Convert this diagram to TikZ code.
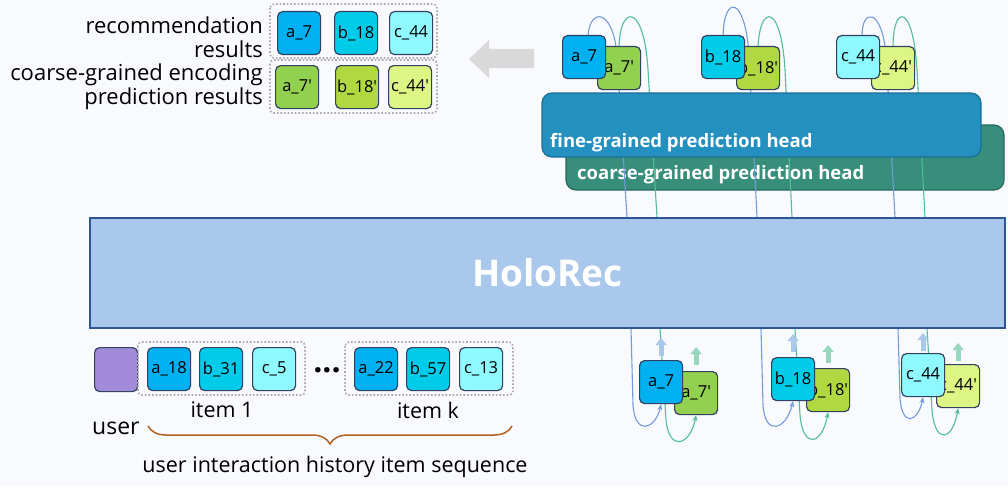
\documentclass[tikz,border=0pt]{standalone}
\usepackage{fontspec}
\setmainfont{Open Sans}
\usetikzlibrary{arrows.meta,decorations.pathreplacing,calc}
\definecolor{bgc}{RGB}{249,250,253}
\definecolor{tokb}{RGB}{50,65,95}
\definecolor{ca}{RGB}{0,176,240}
\definecolor{cb}{RGB}{0,204,234}
\definecolor{cc}{RGB}{142,250,255}
\definecolor{ga}{RGB}{146,208,80}
\definecolor{gb}{RGB}{176,216,64}
\definecolor{gc}{RGB}{221,245,132}
\definecolor{holof}{RGB}{170,199,236}
\definecolor{holod}{RGB}{47,85,151}
\definecolor{finef}{RGB}{36,144,191}
\definecolor{fined}{RGB}{28,110,150}
\definecolor{coarsef}{RGB}{55,142,122}
\definecolor{coarsed}{RGB}{40,105,90}
\definecolor{lnb}{RGB}{115,155,220}
\definecolor{lng}{RGB}{80,190,150}
\definecolor{arb}{RGB}{170,199,236}
\definecolor{arg}{RGB}{150,215,190}
\definecolor{userc}{RGB}{163,139,219}
\definecolor{bracec}{RGB}{176,96,32}
\definecolor{grayar}{RGB}{217,217,217}
\definecolor{dotc}{RGB}{170,170,170}
\pgfdeclarelayer{bg}\pgfdeclarelayer{coarse}\pgfdeclarelayer{lines}
\pgfsetlayers{bg,coarse,lines,main}
\begin{document}
\begin{tikzpicture}[x=1pt,y=-1pt,
  tok/.style={draw=tokb, line width=1.2pt, rounded corners=5pt, minimum width=43pt, minimum height=43pt, inner sep=0pt, anchor=north west, font=\fontsize{16.5}{18}\selectfont},
  dotbox/.style={draw=dotc, dotted, line width=1.6pt, rounded corners=4pt},
  bl/.style={draw=lnb, line width=1.1pt},
  gl/.style={draw=lng, line width=1.1pt},
  tipb/.style={-{Stealth[length=6pt,width=5pt]}},
  upb/.style={draw=arb, line width=5pt, -{Triangle[length=7pt,width=11pt]}},
  upg/.style={draw=arg, line width=5pt, -{Triangle[length=7pt,width=11pt]}},
  txt/.style={font=\fontsize{21.5}{24}\selectfont, inner sep=0pt},
  headtxt/.style={font=\fontsize{18.5}{20}\selectfont\bfseries, text=white, inner sep=0pt, anchor=base west}
]
\useasboundingbox (0,0) rectangle (1008,487);
\begin{pgfonlayer}{bg}
\fill[bgc] (0,0) rectangle (1008,487);
\end{pgfonlayer}

% heads
\begin{pgfonlayer}{coarse}
\node[draw=coarsed, fill=coarsef, line width=1.2pt, rounded corners=10pt, minimum width=438pt, minimum height=65pt] (coarse) at (785,157.5) {};
\node[headtxt] (coarset) at (577,179) {coarse-grained prediction head};
\end{pgfonlayer}
\node[draw=fined, fill=finef, line width=1.2pt, rounded corners=10pt, minimum width=439pt, minimum height=64pt] (fine) at (761.5,125) {};
\node[headtxt] (finet) at (550,147) {fine-grained prediction head};

% HoloRec
\node[draw=holod, fill=holof, line width=1.2pt, minimum width=915pt, minimum height=110pt, font=\fontsize{37}{40}\selectfont\bfseries, text=white] (holo) at (547.5,273) {HoloRec};

% top tokens
\node[tok, fill=ga] (a7g) at (597,46) {a\_7′};
\node[tok, fill=ca] (a7t) at (562,35) {a\_7};
\node[tok, fill=gb] (b18g) at (736,46) {b\_18′};
\node[tok, fill=cb] (b18t) at (701,35) {b\_18};
\node[tok, fill=gc] (c44g) at (871,46) {c\_44′};
\node[tok, fill=cc] (c44t) at (836,35) {c\_44};

% bottom tokens
\node[tok, fill=ga] (a7bg) at (674,371) {a\_7′};
\node[tok, fill=ca] (a7b) at (639,360) {a\_7};
\node[tok, fill=gb] (b18bg) at (806,368) {b\_18′};
\node[tok, fill=cb] (b18b) at (771,357) {b\_18};
\node[tok, fill=gc] (c44bg) at (936,364) {c\_44′};
\node[tok, fill=cc] (c44b) at (901,353) {c\_44};

% top connectors
\begin{pgfonlayer}{lines}
\draw[bl] (627,0 |- holo.north) -- (617,55) .. controls (613,8) and (590,8) .. ([xshift=4pt]a7t.north);
\draw[gl] (657,0 |- holo.north) -- (648,70) .. controls (644,2) and (620,5) .. (a7g.north);
\draw[bl] (757,0 |- holo.north) -- (749,55) .. controls (745,-5) and (724,-5) .. (b18t.north);
\draw[gl] (792,0 |- holo.north) -- (785,70) .. controls (781,2) and (760,5) .. (b18g.north);
\draw[bl] (895,0 |- holo.north) -- (886,55) .. controls (882,8) and (862,8) .. ([xshift=4pt]c44t.north);
\draw[gl] (925,0 |- holo.north) -- (917,70) .. controls (913,2) and (893,5) .. (c44g.north);
% bottom connectors
\draw[bl,tipb] (631,0 |- holo.south) -- (633,405) .. controls (635,436) and (655,430) .. (a7b.south);
\draw[gl,tipb] (660,0 |- holo.south) -- (666,420) .. controls (669,452) and (690,446) .. (a7bg.south);
\draw[bl,tipb] (761,0 |- holo.south) -- (763,405) .. controls (765,437) and (786,430) .. (b18b.south);
\draw[gl,tipb] (795,0 |- holo.south) -- (800,415) .. controls (803,450) and (822,445) .. (b18bg.south);
\draw[bl,tipb] (898,0 |- holo.south) -- (900,398) .. controls (902,428) and (918,422) .. (c44b.south);
\draw[gl,tipb] (927,0 |- holo.south) -- (932,410) .. controls (935,446) and (953,440) .. (c44bg.south);
\end{pgfonlayer}

% thick up arrows
\draw[upb] ([yshift=4pt]a7b.north) -- ++(0,-18);
\draw[upg] ([yshift=6pt]a7bg.north) -- ++(0,-18);
\draw[upb] ([yshift=5pt]b18b.north) -- ++(0,-18);
\draw[upg] ([yshift=5pt]b18bg.north) -- ++(0,-18);
\draw[upb] ([yshift=2pt]c44b.north) -- ++(0,-18);
\draw[upg] ([yshift=3pt]c44bg.north) -- ++(0,-18);

% result panel
\node[font=\fontsize{22}{24}\selectfont, inner sep=0pt, align=right, anchor=east] (rect) at (263,37) {recommendation\\results};
\node[font=\fontsize{22}{24}\selectfont, inner sep=0pt, align=right, anchor=east] (cget) at (263,86.5) {coarse-grained encoding\\prediction results};
\draw[dotbox] (270,4) rectangle (437,58);
\draw[dotbox] (270,60) rectangle (437,113);
\node[tok, fill=ca] (ra) at (277,11) {a\_7};
\node[tok, fill=cb] (rb) at (334,11) {b\_18};
\node[tok, fill=cc] (rc) at (389,11) {c\_44};
\node[tok, fill=ga] (pa) at (275,65) {a\_7′};
\node[tok, fill=gb] (pb) at (335,65) {b\_18′};
\node[tok, fill=gc] (pc) at (388,65) {c\_44′};
\fill[grayar] (469,59) -- (489,40) -- (489,49) -- (534,49) -- (534,68) -- (489,68) -- (489,78) -- cycle;

% input sequence
\node[tok, fill=userc, minimum height=44pt] (user) at (94,347) {};
\draw[dotbox] (138,342) rectangle (305,395);
\draw[dotbox] (345,342) rectangle (513,395);
\node[tok, fill=ca] (i1a) at (147,347) {a\_18};
\node[tok, fill=cb] (i1b) at (199,347) {b\_31};
\node[tok, fill=cc] (i1c) at (252,347) {c\_5};
\node[tok, fill=ca] (ika) at (354,347) {a\_22};
\node[tok, fill=cb] (ikb) at (406,347) {b\_57};
\node[tok, fill=cc] (ikc) at (459,347) {c\_13};
\node[font=\fontsize{32}{32}\selectfont\bfseries, inner sep=0pt] (dots) at (327,370) {...};
\node[txt] (it1) at (222,410) {item 1};
\node[txt] (itk) at (428,410) {item k};
\node[font=\fontsize{23}{26}\selectfont, inner sep=0pt, anchor=west] (usert) at (92,428) {user};
\draw[draw=bracec, line width=1.5pt, decorate, decoration={brace, mirror, amplitude=18pt}] (148,426) coordinate (bl0) -- (512,426) coordinate (br0);
\node[txt] (seq) at (335,467) {user interaction history item sequence};
\end{tikzpicture}
\end{document}
